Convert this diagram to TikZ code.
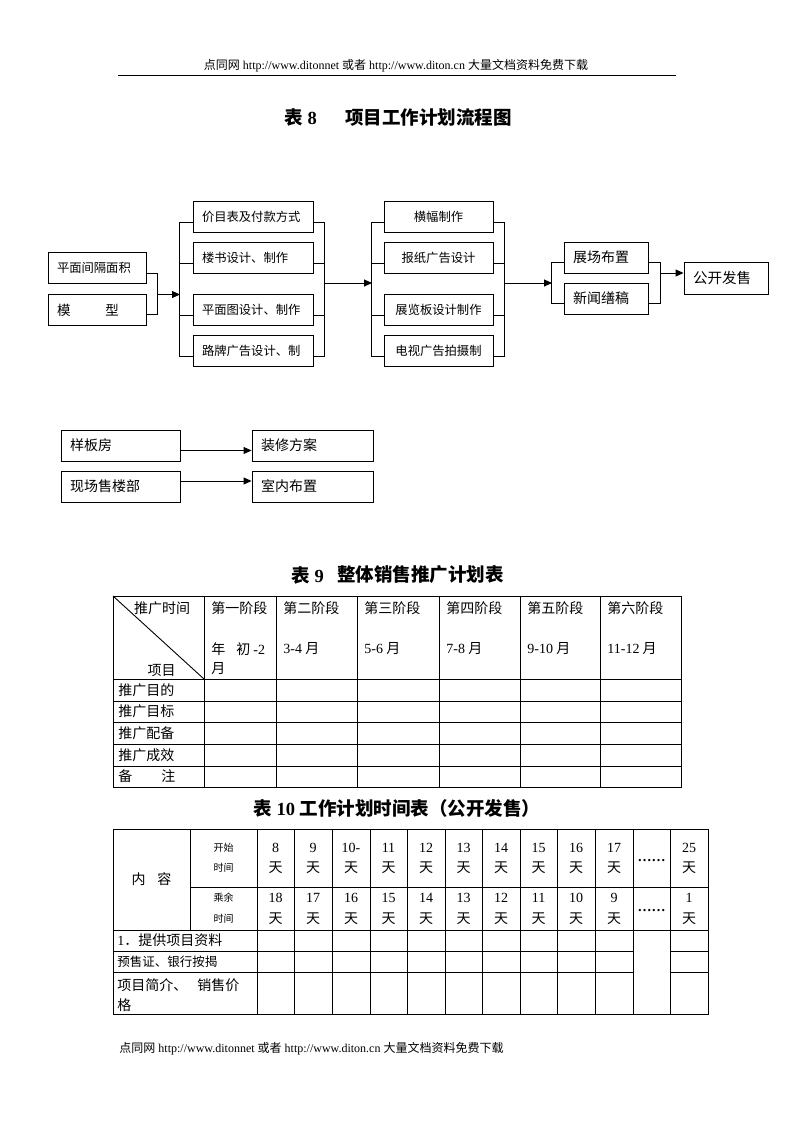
\documentclass[tikz,border=0pt]{standalone}
\usepackage{fontspec}
\setmainfont{Liberation Serif}
\newfontfamily\zh{Noto Sans CJK SC}
\usetikzlibrary{arrows.meta}
\newcommand\fs[1]{\fontsize{#1}{#1}\selectfont}
\begin{document}
\begin{tikzpicture}[x=1pt,y=-1pt,line width=0.9pt,
  fbox/.style={draw,line width=0.9pt,minimum height=31pt,inner ysep=0pt},
  lbox/.style={fbox,inner xsep=9pt,text width=#1,align=left},
  cbox/.style={fbox,inner xsep=0pt,minimum width=#1,align=center},
  arr/.style={-{Triangle[length=8pt,width=7pt]}},
  txt/.style={inner sep=0pt},
  ttl/.style={inner sep=0pt,font=\bfseries\fs{18.5}}]
\fill[white] (0,0) rectangle (794,1123);
\useasboundingbox (0,0) rectangle (794,1123);

% header and footer
\node[txt,font=\fs{12}] (hd) at (396,66) {{\zh 点同网} http://www.ditonnet {\zh 或者} http://www.diton.cn {\zh 大量文档资料免费下载}};
\coordinate (rl) at (118,75); \coordinate (rr) at (676,75);
\draw[line width=0.9pt] (rl) -- (rr);
\node[txt,font=\fs{12},anchor=west] (ft) at (119,1049) {{\zh 点同网} http://www.ditonnet {\zh 或者} http://www.diton.cn {\zh 大量文档资料免费下载}};

% titles
\node[ttl,anchor=west] (t8a) at (284,117) {{\zh\bfseries 表} 8};
\node[ttl,anchor=west] (t8b) at (345,117) {\zh\bfseries 项目工作计划流程图};
\node[ttl,anchor=west] (t9a) at (291,575) {{\zh\bfseries 表} 9};
\node[ttl,anchor=west] (t9b) at (337,575) {\zh\bfseries 整体销售推广计划表};
\node[ttl,anchor=west] (t10) at (253,808) {{\zh\bfseries 表} 10 {\zh\bfseries 工作计划时间表（公开发售）}};

% ---------- flowchart ----------
\node[lbox=80pt,font=\zh\fs{12.3}] (a1) at (97,267.5) {平面间隔面积};
\node[lbox=80pt,font=\zh\fs{13.5}] (a2) at (97,310) {模\hspace{35pt}型};

\node[lbox=102pt,font=\zh\fs{12.3}] (b1) at (253,216.5) {价目表及付款方式};
\node[lbox=102pt,font=\zh\fs{12.3}] (b2) at (253,257.5) {楼书设计、制作};
\node[lbox=102pt,font=\zh\fs{12.3}] (b3) at (253,309.5) {平面图设计、制作};
\node[lbox=102pt,font=\zh\fs{12.3}] (b4) at (253,350.5) {路牌广告设计、制};

\node[cbox=109pt,font=\zh\fs{12.3}] (c1) at (438.5,216.5) {横幅制作};
\node[cbox=109pt,font=\zh\fs{12.3}] (c2) at (438.5,257.5) {报纸广告设计};
\node[cbox=109pt,font=\zh\fs{12.3}] (c3) at (438.5,309.5) {展览板设计制作};
\node[cbox=109pt,font=\zh\fs{12.3}] (c4) at (438.5,350.5) {电视广告拍摄制};

\node[lbox=66pt,font=\zh\fs{14}] (d1) at (606,257.5) {展场布置};
\node[lbox=66pt,font=\zh\fs{14}] (d2) at (606,298.5) {新闻缮稿};

\node[lbox=66pt,font=\zh\fs{14.5},minimum height=32pt] (e) at (726,278) {公开发售};

% col1 -> col2
\coordinate (j1) at (157,273);
\coordinate (j2) at (157,314);
\draw ([yshift=-5.5pt]a1.east) -- (j1) -- (j2) -- ([yshift=-4pt]a2.east);
\coordinate (k1) at (157,294.5);
\coordinate (k2) at (180,294.5);
\draw[arr] (k1) -- (k2);
% col2 brackets
\draw ([yshift=-5.5pt]b1.west) -- ++(-13,0) |- ([yshift=-5.5pt]b4.west);
\draw ([yshift=-5.5pt]b2.west) -- ++(-13,0);
\draw ([yshift=-5.5pt]b3.west) -- ++(-13,0);
\draw ([yshift=-5.5pt]b1.east) -- ++(11,0) |- ([yshift=-5.5pt]b4.east);
\draw ([yshift=-5.5pt]b2.east) -- ++(11,0);
\draw ([yshift=-5.5pt]b3.east) -- ++(11,0);
% col2 -> col3
\coordinate (m1) at (324,283);
\coordinate (m2) at (372,283);
\draw[arr] (m1) -- (m2);
\draw ([yshift=-5.5pt]c1.west) -- ++(-12,0) |- ([yshift=-5.5pt]c4.west);
\draw ([yshift=-5.5pt]c2.west) -- ++(-12,0);
\draw ([yshift=-5.5pt]c3.west) -- ++(-12,0);
\draw ([yshift=-5.5pt]c1.east) -- ++(11,0) |- ([yshift=-5.5pt]c4.east);
\draw ([yshift=-5.5pt]c2.east) -- ++(11,0);
\draw ([yshift=-5.5pt]c3.east) -- ++(11,0);
% col3 -> col4
\coordinate (p1) at (504,283);
\coordinate (p2) at (552,283);
\draw[arr] (p1) -- (p2);
\draw ([yshift=-5pt]d1.west) -- ++(-12,0) |- ([yshift=-5pt]d2.west);
\draw ([yshift=-5pt]d1.east) -- ++(12,0) |- ([yshift=-5pt]d2.east);
% col4 -> e
\coordinate (n1) at (660,273);
\draw[arr] (n1) -- (n1 -| e.west);

% lower boxes
\node[lbox=101pt,font=\zh\fs{14}] (f1) at (120.5,445.5) {样板房};
\node[lbox=101pt,font=\zh\fs{14}] (f2) at (120.5,486.5) {现场售楼部};
\node[lbox=103pt,font=\zh\fs{14}] (g1) at (312.5,445.5) {装修方案};
\node[lbox=103pt,font=\zh\fs{14}] (g2) at (312.5,486.5) {室内布置};
\draw[arr] ([yshift=-5pt]f1.east) -- ([yshift=-5pt]g1.west);
\draw[arr] ([yshift=5.5pt]f2.east) -- ([yshift=5.5pt]g2.west);

% ---------- table 9 ----------
\draw (113,596) rectangle (681,787);
\foreach \x in {204,276,357,439,520,600} \draw (\x,596) -- (\x,787);
\foreach \y in {679,701,722,744,766} \draw (113,\y) -- (681,\y);
\draw (113,596) -- (204,679);
\begin{scope}[every node/.style={txt,font=\zh\fs{14}}]
\node (h0a) at (162,608) {推广时间};
\node (h0b) at (161.5,670) {项目};
\foreach \x/\s [count=\i] in {204/一,276/二,357/三,439/四,520/五,600/六}
  \node[anchor=west] (h\i) at (\x+7,608) {第\s 阶段};
\node[anchor=west] (m1a) at (211,649) {年\hspace{11pt}初\hspace{3pt}{\rmfamily -2}};
\node[anchor=west] (m1b) at (211,669) {月};
\foreach \x/\s [count=\i] in {276/3-4,357/5-6,439/7-8,520/9-10,600/11-12}
  \node[anchor=west] (mm\i) at (\x+7,649) {{\rmfamily \s} 月};
\node[anchor=west] (r1) at (118,690) {推广目的};
\node[anchor=west] (r2) at (118,711.5) {推广目标};
\node[anchor=west] (r3) at (118,733) {推广配备};
\node[anchor=west] (r4) at (118,755) {推广成效};
\node[anchor=west] (r5) at (118,776.5) {备\hspace{29pt}注};
\end{scope}

% ---------- table 10 ----------
\draw (113,829) rectangle (708,1014);
\draw (190,829) -- (190,930);
\foreach \x in {257,294,332,370,407,445,482,520,557,595,633,670} \draw (\x,829) -- (\x,1014);
\draw (190,887) -- (708,887);
\draw (113,930) -- (708,930);
\foreach \y in {951,972} {\draw (113,\y) -- (633,\y); \draw (670,\y) -- (708,\y);}
\begin{scope}[every node/.style={txt}]
\node[font=\zh\fs{14}] (nr) at (151.5,879) {内\hspace{12pt}容};
\node[font=\zh\fs{10}] (s1) at (223.5,848) {开始};
\node[font=\zh\fs{10}] (s2) at (223.5,868) {时间};
\node[font=\zh\fs{10}] (s3) at (223.5,898) {乘余};
\node[font=\zh\fs{10}] (s4) at (223.5,919) {时间};
\foreach \x/\a/\b [count=\i] in {275.5/8/18,313/9/17,351/10-/16,388.5/11/15,426/12/14,463.5/13/13,501/14/12,538.5/15/11,576/16/10,614/17/9,689/25/1} {
  \node[font=\fs{14}] (u\i) at (\x,848) {\a};
  \node[font=\zh\fs{14}] (v\i) at (\x,868) {天};
  \node[font=\fs{14}] (w\i) at (\x,898) {\b};
  \node[font=\zh\fs{14}] (z\i) at (\x,919) {天};
}
\node[font=\bfseries\fs{14},anchor=base] (el1) at (651.5,861) {……};
\node[font=\bfseries\fs{14},anchor=base] (el2) at (651.5,911) {……};
\node[font=\zh\fs{14},anchor=west] (q1) at (117,940.5) {{\rmfamily 1}．提供项目资料};
\node[font=\zh\fs{12.5},anchor=west] (q2) at (117,961.5) {预售证、银行按揭};
\node[font=\zh\fs{14},anchor=west] (q3) at (117,985) {项目简介、\hspace{10pt}销售价};
\node[font=\zh\fs{14},anchor=west] (q4) at (117,1005) {格};
\end{scope}
\end{tikzpicture}
\end{document}
